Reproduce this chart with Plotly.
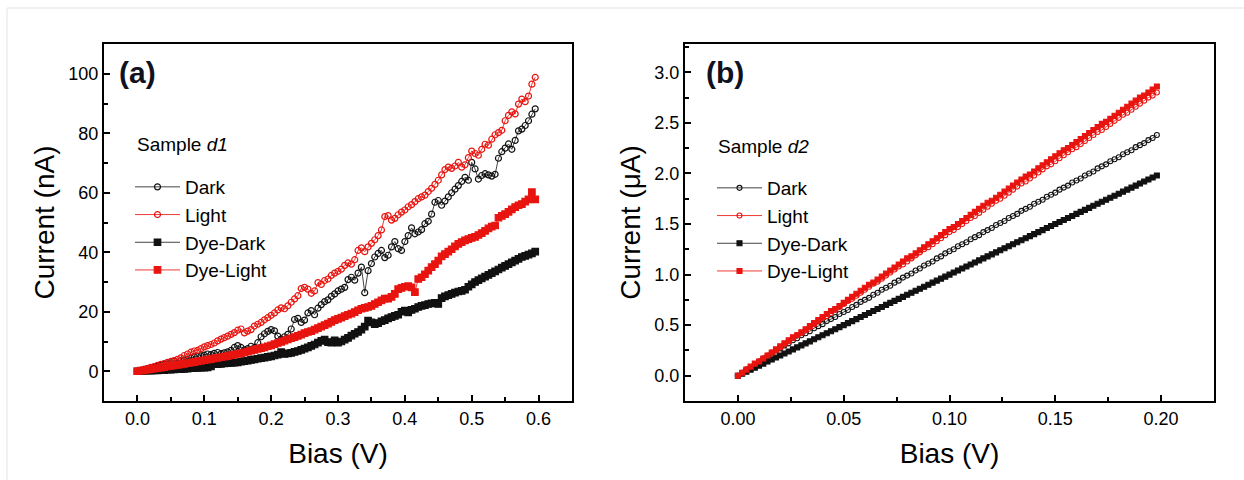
import plotly.graph_objects as go

# ---------------- Panel (a): Sample d1, current in nA ----------------
bias_a = [round(0.005 * i, 3) for i in range(120)]

dark_a = [
    0.0, 0.3, 0.6, 0.9, 1.2, 1.4, 1.7, 2.0, 2.3, 2.5,
    2.8, 3.4, 2.8, 3.6, 3.8, 4.0, 4.4, 4.8, 5.0, 5.2,
    5.4, 5.8, 5.6, 6.0, 6.3, 5.9, 6.2, 6.5, 7.0, 8.0,
    8.6, 8.0, 7.2, 7.6, 8.4, 8.0, 9.6, 11.6, 12.6, 13.4,
    14.0, 13.6, 11.8, 10.8, 11.6, 12.4, 14.2, 17.4, 17.8, 16.4,
    17.2, 19.6, 20.4, 19.0, 21.2, 22.4, 23.4, 24.0, 25.2, 26.0,
    27.0, 27.6, 28.2, 30.8, 31.6, 30.6, 33.0, 35.0, 26.4, 33.8,
    36.2, 38.4, 39.6, 40.6, 38.2, 39.0, 41.8, 43.6, 41.2, 40.6,
    43.6, 45.6, 48.2, 46.2, 46.8, 47.6, 49.6, 50.4, 52.8, 56.8,
    57.4, 55.8, 57.2, 58.6, 60.0, 61.2, 62.4, 63.8, 65.2, 64.2,
    70.2, 68.0, 64.6, 65.8, 66.4, 66.0, 65.6, 66.2, 71.6, 73.8,
    75.0, 76.4, 74.6, 77.6, 80.8, 81.4, 82.6, 84.2, 86.4, 88.2,
]
light_a = [
    0.0, 0.3, 0.6, 1.0, 1.3, 1.6, 2.0, 2.3, 2.6, 3.0,
    3.3, 3.6, 4.0, 4.5, 5.3, 5.8, 6.4, 6.8, 7.0, 7.6,
    8.2, 8.6, 9.0, 9.5, 10.2, 10.8, 11.3, 11.8, 12.4, 13.0,
    13.8, 14.2, 12.9, 13.5, 14.0, 15.2, 15.8, 16.4, 17.3, 18.0,
    18.8, 19.6, 20.6, 21.3, 21.0, 22.0, 23.2, 24.3, 25.4, 27.8,
    28.2, 27.6, 26.2, 27.0, 29.8, 29.2, 30.5, 31.0, 32.2, 33.0,
    33.6, 34.3, 35.6, 36.4, 36.0, 37.5, 40.6, 41.5, 40.2, 41.8,
    43.0, 44.2, 45.6, 47.5, 52.0, 52.3, 50.8, 51.4, 52.6, 53.5,
    54.2, 55.3, 56.0, 57.0, 58.0, 58.6, 59.2, 60.4, 61.5, 62.8,
    64.2, 66.0, 67.8, 68.6, 68.2, 69.0, 70.2, 68.6, 69.4, 71.8,
    74.0, 73.2, 72.6, 74.6, 76.3, 76.0, 78.0, 79.5, 80.2, 81.0,
    84.2, 86.0, 87.2, 86.5, 89.8, 91.5, 90.6, 92.5, 96.5, 98.8,
]
dye_dark_a = [
    0.0, 0.1, 0.1, 0.2, 0.2, 0.3, 0.3, 0.4, 0.4, 0.5,
    0.5, 0.6, 0.7, 0.7, 0.8, 0.9, 1.0, 1.0, 1.1, 1.2,
    1.2, 1.3, 1.6, 2.4, 2.4, 2.5, 2.6, 2.7, 2.8, 2.9,
    3.0, 3.2, 3.4, 3.6, 3.8, 4.0, 4.2, 4.4, 4.6, 4.8,
    5.0, 5.3, 5.6, 6.4, 5.8, 6.0, 6.2, 6.5, 6.8, 7.2,
    7.6, 8.0, 8.5, 9.0, 9.6, 10.2, 10.6, 9.8, 9.6, 10.4,
    9.6, 10.0, 10.6, 11.2, 12.0, 12.6, 13.2, 14.0, 15.0, 17.0,
    16.4, 15.8, 16.2, 16.8, 17.2, 17.8, 18.2, 18.6, 19.0, 20.0,
    20.4, 19.8, 20.6, 21.0, 21.6, 22.0, 22.2, 22.6, 22.8, 23.0,
    22.6, 24.6, 25.2, 25.6, 26.0, 26.4, 26.8, 27.0, 27.4, 28.4,
    29.2, 30.0, 30.6, 31.2, 31.8, 32.4, 33.0, 33.6, 34.2, 34.8,
    35.4, 36.0, 36.6, 37.2, 37.8, 38.4, 38.8, 39.2, 39.6, 40.2,
]
dye_light_a = [
    0.0, 0.2, 0.3, 0.5, 0.7, 0.9, 1.0, 1.2, 1.4, 1.6,
    1.8, 2.0, 2.1, 2.3, 2.5, 2.7, 2.9, 3.1, 3.3, 3.5,
    3.7, 3.9, 4.1, 4.3, 4.5, 4.7, 4.9, 5.1, 5.4, 5.6,
    5.8, 6.1, 6.3, 6.6, 6.9, 7.2, 7.5, 7.8, 8.0, 8.4,
    8.7, 9.1, 9.5, 9.9, 10.3, 10.7, 11.1, 11.5, 11.9, 12.3,
    12.8, 13.2, 13.5, 14.0, 14.5, 15.0, 15.5, 16.0, 16.6, 17.2,
    17.6, 18.0, 18.5, 19.0, 19.4, 19.9, 20.5, 21.0, 21.3, 21.6,
    22.0, 22.6, 23.2, 23.8, 24.4, 24.4, 25.0, 26.0, 27.6, 28.0,
    28.4, 28.6, 28.2, 26.6, 31.0, 31.6, 32.6, 33.8, 35.0, 36.0,
    37.2, 38.6, 39.4, 40.2, 41.0, 42.0, 42.8, 43.4, 44.0, 44.4,
    44.8, 45.2, 45.8, 46.4, 47.2, 48.0, 48.6, 49.0, 51.6, 52.2,
    52.8, 53.6, 54.4, 55.2, 55.8, 56.2, 57.0, 57.8, 60.2, 57.8,
]

# ---------------- Panel (b): Sample d2, current in uA ----------------
bias_b = [round(0.002 * i, 3) for i in range(100)]

dark_b = [
    0.00, 0.03, 0.06, 0.08, 0.11, 0.14, 0.17, 0.19, 0.22, 0.25,
    0.27, 0.30, 0.32, 0.35, 0.37, 0.40, 0.42, 0.44, 0.47, 0.49,
    0.51, 0.54, 0.56, 0.58, 0.61, 0.63, 0.65, 0.68, 0.70, 0.73,
    0.75, 0.77, 0.80, 0.82, 0.85, 0.87, 0.89, 0.92, 0.94, 0.97,
    0.99, 1.01, 1.04, 1.06, 1.09, 1.11, 1.13, 1.16, 1.18, 1.21,
    1.23, 1.25, 1.28, 1.30, 1.32, 1.35, 1.37, 1.39, 1.42, 1.44,
    1.46, 1.49, 1.51, 1.53, 1.56, 1.58, 1.60, 1.63, 1.65, 1.67,
    1.70, 1.72, 1.74, 1.77, 1.79, 1.81, 1.84, 1.86, 1.88, 1.91,
    1.93, 1.95, 1.98, 2.00, 2.02, 2.05, 2.07, 2.09, 2.12, 2.14,
    2.16, 2.19, 2.21, 2.23, 2.26, 2.28, 2.30, 2.33, 2.35, 2.38,
]
light_b = [
    0.00, 0.03, 0.06, 0.08, 0.11, 0.14, 0.17, 0.20, 0.23, 0.25,
    0.28, 0.31, 0.34, 0.37, 0.40, 0.42, 0.45, 0.48, 0.51, 0.54,
    0.57, 0.59, 0.62, 0.65, 0.68, 0.71, 0.74, 0.76, 0.79, 0.82,
    0.85, 0.88, 0.91, 0.93, 0.96, 0.99, 1.02, 1.05, 1.08, 1.10,
    1.13, 1.16, 1.19, 1.22, 1.25, 1.27, 1.30, 1.33, 1.36, 1.39,
    1.42, 1.44, 1.47, 1.50, 1.53, 1.56, 1.58, 1.61, 1.64, 1.67,
    1.70, 1.73, 1.75, 1.78, 1.81, 1.84, 1.87, 1.90, 1.92, 1.95,
    1.98, 2.01, 2.04, 2.07, 2.09, 2.12, 2.15, 2.18, 2.21, 2.24,
    2.26, 2.29, 2.32, 2.35, 2.38, 2.41, 2.43, 2.46, 2.49, 2.52,
    2.55, 2.58, 2.60, 2.63, 2.66, 2.69, 2.72, 2.75, 2.77, 2.80,
]
dye_dark_b = [
    0.00, 0.02, 0.04, 0.06, 0.08, 0.10, 0.12, 0.14, 0.16, 0.18,
    0.20, 0.22, 0.24, 0.26, 0.28, 0.30, 0.32, 0.34, 0.36, 0.38,
    0.40, 0.42, 0.44, 0.46, 0.48, 0.50, 0.52, 0.54, 0.56, 0.58,
    0.60, 0.62, 0.64, 0.66, 0.68, 0.70, 0.72, 0.74, 0.76, 0.78,
    0.80, 0.82, 0.84, 0.86, 0.88, 0.90, 0.92, 0.94, 0.96, 0.98,
    1.00, 1.02, 1.04, 1.06, 1.08, 1.10, 1.12, 1.14, 1.16, 1.18,
    1.20, 1.22, 1.24, 1.26, 1.28, 1.30, 1.32, 1.34, 1.36, 1.38,
    1.40, 1.42, 1.44, 1.46, 1.48, 1.50, 1.52, 1.54, 1.56, 1.58,
    1.60, 1.62, 1.64, 1.66, 1.68, 1.70, 1.72, 1.74, 1.76, 1.78,
    1.80, 1.82, 1.84, 1.86, 1.88, 1.90, 1.92, 1.94, 1.96, 1.98,
]
dye_light_b = [
    0.00, 0.03, 0.06, 0.09, 0.12, 0.14, 0.17, 0.20, 0.23, 0.26,
    0.29, 0.32, 0.35, 0.38, 0.40, 0.43, 0.46, 0.49, 0.52, 0.55,
    0.58, 0.61, 0.64, 0.66, 0.69, 0.72, 0.75, 0.78, 0.81, 0.84,
    0.87, 0.90, 0.92, 0.95, 0.98, 1.01, 1.04, 1.07, 1.10, 1.13,
    1.16, 1.18, 1.21, 1.24, 1.27, 1.30, 1.33, 1.36, 1.39, 1.42,
    1.45, 1.47, 1.50, 1.53, 1.56, 1.59, 1.62, 1.65, 1.68, 1.71,
    1.73, 1.76, 1.79, 1.82, 1.85, 1.88, 1.91, 1.94, 1.97, 1.99,
    2.02, 2.05, 2.08, 2.11, 2.14, 2.17, 2.20, 2.23, 2.25, 2.28,
    2.31, 2.34, 2.37, 2.40, 2.43, 2.46, 2.49, 2.51, 2.54, 2.57,
    2.60, 2.63, 2.66, 2.69, 2.72, 2.75, 2.77, 2.80, 2.83, 2.86,
]

series_names = ["Dark", "Light", "Dye-Dark", "Dye-Light"]

W, H = 1244, 480
FONT = "Arial, Liberation Sans, Helvetica, sans-serif"
BLACK = "#111111"
RED = "#e8140f"

styles = {
    "Dark": dict(color=BLACK, linecolor="#444444", symbol="circle-open"),
    "Light": dict(color=RED, linecolor="#f03a35", symbol="circle-open"),
    "Dye-Dark": dict(color=BLACK, linecolor="#444444", symbol="square"),
    "Dye-Light": dict(color=RED, linecolor="#f03a35", symbol="square"),
}


def px_x(p):
    return p / W


def px_y(p):
    return 1 - p / H


fig = go.Figure()

panel_a = dict(zip(series_names, [dark_a, light_a, dye_dark_a, dye_light_a]))
panel_b = dict(zip(series_names, [dark_b, light_b, dye_dark_b, dye_light_b]))

for name in series_names:
    st = styles[name]
    is_sq = st["symbol"] == "square"
    fig.add_trace(go.Scatter(
        x=bias_a, y=panel_a[name], name=name, mode="lines+markers",
        xaxis="x", yaxis="y", legend="legend",
        line=dict(color=st["linecolor"], width=1),
        marker=dict(symbol=st["symbol"], size=6.5 if is_sq else 6, color=st["color"],
                    line=dict(color=st["color"], width=1.2)),
    ))

for name in series_names:
    st = styles[name]
    fig.add_trace(go.Scatter(
        x=bias_b, y=panel_b[name], name=name, mode="lines+markers",
        xaxis="x2", yaxis="y2", legend="legend2",
        line=dict(color=st["linecolor"], width=1),
        marker=dict(symbol=st["symbol"], size=5, color=st["color"],
                    line=dict(color=st["color"], width=1.1)),
    ))

axis_common = dict(
    showline=True, linecolor="black", linewidth=2, mirror=True,
    ticks="inside", ticklen=6, tickwidth=1.5, tickcolor="black",
    showgrid=False, zeroline=False,
    tickfont=dict(family=FONT, size=18, color="black"),
    title_font=dict(family=FONT, size=28, color="black"),
)

ydom = [px_y(401), px_y(44)]
legend_common = dict(xanchor="left", yanchor="top", bgcolor="rgba(0,0,0,0)",
                     font=dict(family=FONT, size=19, color="black"),
                     tracegroupgap=0, itemwidth=45)

fig.update_layout(
    width=W, height=H,
    margin=dict(l=0, r=0, t=0, b=0),
    paper_bgcolor="white", plot_bgcolor="white",
    font=dict(family=FONT, color="black"),
    xaxis=dict(axis_common, domain=[px_x(104), px_x(572)], range=[-0.05, 0.65],
               dtick=0.1, tick0=0, tickformat=".1f",
               minor=dict(ticks="inside", ticklen=4, tickwidth=1.5, tickcolor="black", dtick=0.05),
               title=dict(text="Bias (V)", standoff=16), anchor="y"),
    yaxis=dict(axis_common, domain=ydom, range=[-10, 110],
               dtick=20, tick0=0,
               minor=dict(ticks="inside", ticklen=4, tickwidth=1.5, tickcolor="black", dtick=10),
               title=dict(text="Current (nA)", standoff=6), anchor="x"),
    xaxis2=dict(axis_common, domain=[px_x(685), px_x(1214)], range=[-0.025, 0.225],
                dtick=0.05, tick0=0, tickformat=".2f",
                minor=dict(ticks="inside", ticklen=4, tickwidth=1.5, tickcolor="black", dtick=0.025),
                title=dict(text="Bias (V)", standoff=16), anchor="y2"),
    yaxis2=dict(axis_common, domain=ydom, range=[-0.25, 3.28],
                dtick=0.5, tick0=0, tickformat=".1f",
                minor=dict(ticks="inside", ticklen=4, tickwidth=1.5, tickcolor="black", dtick=0.25),
                title=dict(text="Current (μA)", standoff=6), anchor="x2"),
    legend=dict(legend_common, x=px_x(130), y=px_y(168)),
    legend2=dict(legend_common, x=px_x(712), y=px_y(169)),
    showlegend=True,
    annotations=[
        dict(text="<b>(a)</b>", x=px_x(117), y=px_y(72), xref="paper", yref="paper",
             xanchor="left", yanchor="middle", showarrow=False,
             font=dict(family=FONT, size=30, color="#10131f")),
        dict(text="<b>(b)</b>", x=px_x(704), y=px_y(72), xref="paper", yref="paper",
             xanchor="left", yanchor="middle", showarrow=False,
             font=dict(family=FONT, size=30, color="#10131f")),
        dict(text="Sample <i>d1</i>", x=px_x(135), y=px_y(144), xref="paper", yref="paper",
             xanchor="left", yanchor="middle", showarrow=False,
             font=dict(family=FONT, size=19, color="black")),
        dict(text="Sample <i>d2</i>", x=px_x(716), y=px_y(146), xref="paper", yref="paper",
             xanchor="left", yanchor="middle", showarrow=False,
             font=dict(family=FONT, size=19, color="black")),
    ],
    shapes=[
        dict(type="rect", xref="paper", yref="paper",
             x0=px_x(7), x1=px_x(1260), y0=px_y(500), y1=px_y(8),
             line=dict(color="#e3e3e3", width=1), layer="below"),
    ],
)

fig.write_html("out.html")
